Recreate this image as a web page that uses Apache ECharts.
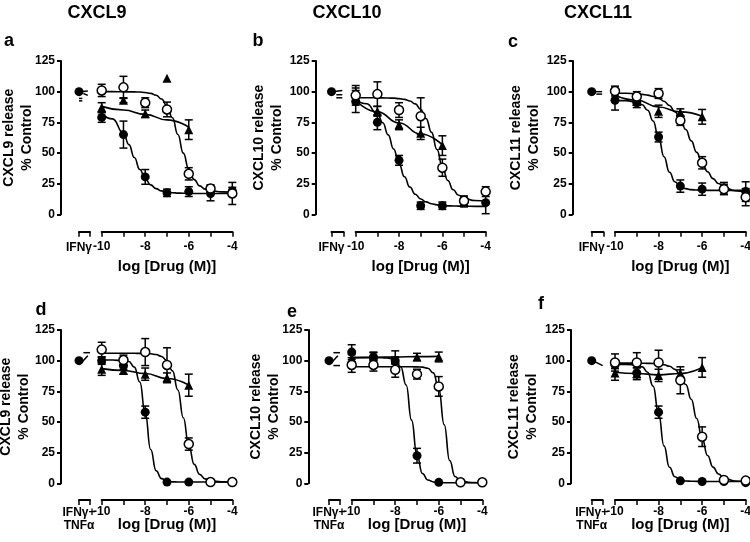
<!DOCTYPE html>
<html><head><meta charset="utf-8">
<script src="https://cdn.jsdelivr.net/npm/echarts@6/dist/echarts.min.js"></script>
<style>html,body{margin:0;padding:0;background:#fff}#c{width:750px;height:542px}</style>
</head><body><div id="c"></div>
<script>
// ---------- data ----------
const DOSES = [-10, -9, -8, -7, -6, -5, -4];
const TRI_DOSES = [-10, -9, -8, -7, -6];
const CURVE_X = [-10, -9.5, -9, -8.75, -8.5, -8.25, -8, -7.75, -7.5, -7.25, -7, -6.75, -6.5, -6.25, -6, -5.75, -5.5, -5.25, -5, -4.5, -4];
const TITLES = ['CXCL9', 'CXCL10', 'CXCL11'];
const PANEL_LETTERS = ['a', 'b', 'c', 'd', 'e', 'f'];
const Y_NAMES = ['CXCL9 release\n% Control', 'CXCL10 release\n% Control', 'CXCL11 release\n% Control'];
const X_NAME = 'log [Drug (M)]';
const CONTROL_LABELS = ['IFNγ', 'IFNγ+\nTNFα'];
const CONTROL_VALUE = 100;

// panel a
const A_FILLED = [79, 65, 30.5, 17.5, 18.5, 17, 19];
const A_FILLED_ERR = [4, 11, 6, 3, 4, 6, 3];
const A_OPEN = [101, 103.5, 91, 85.5, 33, 21, 17];
const A_OPEN_ERR = [5, 9, 4, 6, 5, 3, 9];
const A_TRI = [87, 93, 82, 111, 69];
const A_TRI_ERR = [4, 2, 3, 0, 8];
const A_FILLED_FIT = [82.1, 77.8, 66.2, 56.8, 46.3, 36.5, 29, 24, 20.9, 19.1, 18.1, 17.6, 17.3, 17.2, 17.1, 17, 17, 17, 17, 17, 17];
const A_OPEN_FIT = [100, 100, 99.9, 99.8, 99.8, 99.7, 99.3, 98.6, 97.1, 94, 88.3, 78.7, 65.1, 49.9, 37, 28.3, 23.2, 20.5, 19.2, 18.3, 18.1];
const A_TRI_FIT = [88, 85, 81.5, 77, 71];
const A_STUBS = [[0.1, 100, 0.8, 100.5], [0.4, 98.5, 0.8, 97], [0, 94.5, 0.3, 94.5], [0, 92.5, 0.3, 92.5]];

// panel b
const B_FILLED = [92, 75, 44, 7, 7, 10, 9.5];
const B_FILLED_ERR = [9, 6, 4, 3, 3, 4, 9];
const B_OPEN = [97, 98, 85, 80, 38, 11, 18.5];
const B_OPEN_ERR = [8, 10, 6, 15, 7, 4, 4];
const B_TRI = [99, 84, 73, 66, 56];
const B_TRI_ERR = [4, 4, 4, 5, 8];
const B_FILLED_FIT = [93.3, 90.1, 81.9, 74.6, 64.8, 53.2, 41.2, 30.6, 22.2, 16.3, 12.5, 10.1, 8.6, 7.7, 7.2, 6.9, 6.8, 6.7, 6.6, 6.5, 6.5];
const B_OPEN_FIT = [95, 95, 95, 94.9, 94.8, 94.7, 94.3, 93.7, 92.4, 90, 85.5, 78, 66.8, 52.8, 38.7, 27.5, 20, 15.5, 13.1, 11.2, 10.7];
const B_TRI_FIT = [93, 83.5, 74.5, 65.5, 56.5];
const B_STUBS = [[0.1, 100, 0.9, 101], [0.4, 97.5, 0.9, 97.5], [0.4, 95, 0.9, 95]];

// panel c
const C_FILLED = [93, 91, 63, 23, 20.5, 21, 18.5];
const C_FILLED_ERR = [8, 4, 4, 5, 5, 5, 8];
const C_OPEN = [100.5, 96, 98.5, 76.5, 42, 20.5, 14];
const C_OPEN_ERR = [4, 4, 4, 4, 5, 4, 7];
const C_TRI = [96, 92, 84, 83, 79.5];
const C_TRI_ERR = [3, 3, 5, 3, 6];
const C_FILLED_FIT = [92.9, 92.7, 91.4, 89.3, 84.8, 76.1, 62.5, 46.9, 34.3, 26.5, 22.6, 20.9, 20.1, 19.8, 19.6, 19.5, 19.5, 19.5, 19.5, 19.5, 19.5];
const C_OPEN_FIT = [98.9, 98.7, 98.3, 97.8, 97.2, 96.1, 94.5, 92.2, 88.7, 83.7, 77.2, 69.1, 59.9, 50.5, 41.9, 34.7, 29.1, 25.1, 22.3, 19.2, 17.9];
const C_TRI_FIT = [97, 93, 87.5, 83.5, 80];
const C_STUBS = [[0.1, 100, 0.9, 100], [0.4, 98, 0.9, 98]];

// panel d
const D_FILLED = [100, 96, 58, 1, 1, 1, 1];
const D_FILLED_ERR = [3, 3, 5, 0, 0, 0, 0];
const D_OPEN = [109, 100.5, 107, 96.5, 32, 1, 1];
const D_OPEN_ERR = [6, 4, 11, 14, 5, 0, 0];
const D_TRI = [93, 92, 89, 86, 80];
const D_TRI_ERR = [5, 3, 5, 4, 9];
const D_FILLED_FIT = [100.5, 100.5, 100, 99.3, 94.7, 82.6, 57, 27.5, 10.2, 3.8, 1.8, 1.2, 1.1, 1, 1, 1, 1, 1, 1, 1, 1];
const D_OPEN_FIT = [106, 106, 106, 106, 106, 105.9, 105.8, 105.6, 105, 103.4, 99.8, 91.7, 76.1, 53.5, 30.9, 15.4, 7.3, 3.6, 2, 1.2, 1];
const D_TRI_FIT = [93.5, 92, 89.5, 85.5, 80];
const D_STUBS = [[0.2, 98, 0.8, 104], [0.4, 106.5, 1, 106.5]];

// panel e
const E_FILLED = [107, 103, 100, 22.5, 0.8, 0.8, 0.8];
const E_FILLED_ERR = [6, 4, 3, 6, 0, 0, 0];
const E_OPEN = [96.5, 96.5, 92.5, 89, 79, 0.8, 0.8];
const E_OPEN_ERR = [6, 5, 6, 4, 8, 0, 0];
const E_TRI = [102, 103.5, 101, 103, 103];
const E_TRI_ERR = [3, 3, 7, 3, 4];
const E_FILLED_FIT = [102.5, 102.5, 102.5, 102.4, 102.3, 101.9, 100.3, 95, 80.1, 51.5, 22.9, 8, 2.7, 1.1, 0.7, 0.5, 0.5, 0.5, 0.5, 0.5, 0.5];
const E_OPEN_FIT = [95, 95, 95, 95, 95, 95, 95, 95, 95, 95, 94.9, 94.7, 93.8, 90, 76.9, 47.8, 18.6, 5.5, 1.7, 0.6, 0.5];
const E_TRI_FIT = [102.5, 102.8, 103, 103.3, 103.5];
const E_STUBS = [[0.2, 98, 0.8, 104], [0.4, 106.5, 1, 106.5], [0.4, 96, 1, 96]];

// panel f
const F_FILLED = [96.5, 90, 58, 2, 1.5, 1.5, 0.5];
const F_FILLED_ERR = [3, 4, 5, 0, 0, 0, 0];
const F_OPEN = [98.5, 98.5, 98.5, 84, 38, 2.7, 2.2];
const F_OPEN_ERR = [7, 8, 10, 11, 8, 0, 0];
const F_TRI = [90, 89.5, 88, 89.5, 94.5];
const F_TRI_ERR = [6, 5, 5, 3, 8];
const F_FILLED_FIT = [97, 96.9, 96.3, 94.9, 90.5, 79.2, 56.9, 30.5, 13.1, 5.4, 2.8, 1.9, 1.7, 1.6, 1.5, 1.5, 1.5, 1.5, 1.5, 1.5, 1.5];
const F_OPEN_FIT = [98, 98, 98, 97.9, 97.8, 97.7, 97.3, 96.7, 95.4, 92.9, 88.4, 80.6, 68.5, 52.8, 36.4, 22.7, 13.2, 7.6, 4.4, 1.9, 1.2];
const F_TRI_FIT = [90.5, 89.5, 88.5, 89.5, 94.5];
const F_STUBS = [[0.1, 100, 1, 96]];

// ---------- layout (pixels) ----------
const LAYOUT = [
  {left: 101.7, top: 61, width: 130.6, height: 153.3, yOff: 40.7, xOff: 17.4, ctrlLeft: 79, ctrlW: 11, yGap: 25, xGap: 28, lblMargin: 9, letter: [9, 41]},
  {left: 355.7, top: 61, width: 130, height: 153.3, yOff: 40, xOff: 17.4, ctrlLeft: 331.5, ctrlW: 12, yGap: 29.7, xGap: 28, lblMargin: 9, letter: [258, 41]},
  {left: 615, top: 61, width: 130.7, height: 153.3, yOff: 42.3, xOff: 17.4, ctrlLeft: 591.7, ctrlW: 11.6, yGap: 29.7, xGap: 28, lblMargin: 9, letter: [513, 42]},
  {left: 101.7, top: 330, width: 130.6, height: 153.3, yOff: 40.7, xOff: 16.7, ctrlLeft: 79, ctrlW: 11, yGap: 28, xGap: 17, lblMargin: 6, letter: [41, 310]},
  {left: 351.7, top: 330, width: 130.6, height: 153.3, yOff: 43.4, xOff: 16.7, ctrlLeft: 329, ctrlW: 11, yGap: 25.3, xGap: 17, lblMargin: 6, letter: [292, 312]},
  {left: 615, top: 330, width: 130.7, height: 153.3, yOff: 44, xOff: 16.7, ctrlLeft: 591.7, ctrlW: 11, yGap: 30, xGap: 17, lblMargin: 6, letter: [541, 304]}
];
const TITLE_POS = [[97, 13], [347, 13], [598, 13]];

const PANELS = [
  {filled: A_FILLED, filledErr: A_FILLED_ERR, open: A_OPEN, openErr: A_OPEN_ERR, tri: A_TRI, triErr: A_TRI_ERR, filledFit: A_FILLED_FIT, openFit: A_OPEN_FIT, triFit: A_TRI_FIT, stubs: A_STUBS, yName: Y_NAMES[0], ctrl: CONTROL_LABELS[0]},
  {filled: B_FILLED, filledErr: B_FILLED_ERR, open: B_OPEN, openErr: B_OPEN_ERR, tri: B_TRI, triErr: B_TRI_ERR, filledFit: B_FILLED_FIT, openFit: B_OPEN_FIT, triFit: B_TRI_FIT, stubs: B_STUBS, yName: Y_NAMES[1], ctrl: CONTROL_LABELS[0]},
  {filled: C_FILLED, filledErr: C_FILLED_ERR, open: C_OPEN, openErr: C_OPEN_ERR, tri: C_TRI, triErr: C_TRI_ERR, filledFit: C_FILLED_FIT, openFit: C_OPEN_FIT, triFit: C_TRI_FIT, stubs: C_STUBS, yName: Y_NAMES[2], ctrl: CONTROL_LABELS[0]},
  {filled: D_FILLED, filledErr: D_FILLED_ERR, open: D_OPEN, openErr: D_OPEN_ERR, tri: D_TRI, triErr: D_TRI_ERR, filledFit: D_FILLED_FIT, openFit: D_OPEN_FIT, triFit: D_TRI_FIT, stubs: D_STUBS, yName: Y_NAMES[0], ctrl: CONTROL_LABELS[1]},
  {filled: E_FILLED, filledErr: E_FILLED_ERR, open: E_OPEN, openErr: E_OPEN_ERR, tri: E_TRI, triErr: E_TRI_ERR, filledFit: E_FILLED_FIT, openFit: E_OPEN_FIT, triFit: E_TRI_FIT, stubs: E_STUBS, yName: Y_NAMES[1], ctrl: CONTROL_LABELS[1]},
  {filled: F_FILLED, filledErr: F_FILLED_ERR, open: F_OPEN, openErr: F_OPEN_ERR, tri: F_TRI, triErr: F_TRI_ERR, filledFit: F_FILLED_FIT, openFit: F_OPEN_FIT, triFit: F_TRI_FIT, stubs: F_STUBS, yName: Y_NAMES[2], ctrl: CONTROL_LABELS[1]}
];

// ---------- build ----------
const FONT = '"Liberation Sans", Arial, Helvetica, sans-serif';
const BLACK = '#000';
const grids = [], xAxes = [], yAxes = [], series = [], graphics = [];

function errRender(params, api) {
  const x = api.value(0), y = api.value(1), e = api.value(2);
  if (!e) return null;
  const t = api.coord([x, y + e]), b = api.coord([x, y - e]);
  const hw = 4, st = {stroke: BLACK, lineWidth: 1.5};
  return {type: 'group', children: [
    {type: 'line', shape: {x1: t[0], y1: t[1], x2: b[0], y2: b[1]}, style: st},
    {type: 'line', shape: {x1: t[0] - hw, y1: t[1], x2: t[0] + hw, y2: t[1]}, style: st},
    {type: 'line', shape: {x1: b[0] - hw, y1: b[1], x2: b[0] + hw, y2: b[1]}, style: st}
  ]};
}
function stubRender(params, api) {
  const p1 = api.coord([api.value(0), api.value(1)]), p2 = api.coord([api.value(2), api.value(3)]);
  return {type: 'line', shape: {x1: p1[0], y1: p1[1], x2: p2[0], y2: p2[1]}, style: {stroke: BLACK, lineWidth: 1.5}};
}
const lblStyle = {color: BLACK, fontFamily: FONT, fontWeight: 'bold', fontSize: 12};

PANELS.forEach((P, p) => {
  const L = LAYOUT[p];
  const gi = 2 * p, ci = 2 * p + 1;
  grids.push({left: L.left, top: L.top, width: L.width, height: L.height, outerBoundsMode: 'none', containLabel: false});
  grids.push({left: L.ctrlLeft, top: L.top, width: L.ctrlW, height: L.height, outerBoundsMode: 'none', containLabel: false});

  xAxes.push({
    gridIndex: gi, type: 'value', min: -10, max: -4, interval: 1, offset: L.xOff,
    axisLine: {show: true, onZero: false, lineStyle: {color: BLACK, width: 2}},
    axisTick: {show: true, length: 5, lineStyle: {color: BLACK, width: 1.5}},
    axisLabel: Object.assign({margin: L.lblMargin, formatter: v => (v % 2 === 0 ? String(v) : '')}, lblStyle),
    splitLine: {show: false},
    name: X_NAME, nameLocation: 'middle', nameGap: L.xGap, nameMoveOverlap: false,
    nameTextStyle: {color: BLACK, fontFamily: FONT, fontWeight: 'bold', fontSize: 15}
  });
  xAxes.push({
    gridIndex: ci, type: 'value', min: 0, max: 1, interval: 1, offset: L.xOff,
    axisLine: {show: true, onZero: false, lineStyle: {color: BLACK, width: 2}},
    axisTick: {show: true, length: 5, lineStyle: {color: BLACK, width: 1.5}},
    axisLabel: Object.assign({margin: L.lblMargin, lineHeight: 13, formatter: v => (v === 0 ? P.ctrl : '')}, lblStyle),
    splitLine: {show: false}
  });
  yAxes.push({
    gridIndex: gi, type: 'value', min: 0, max: 125, interval: 25, offset: L.yOff,
    axisLine: {show: true, onZero: false, lineStyle: {color: BLACK, width: 2}},
    axisTick: {show: true, length: 4, lineStyle: {color: BLACK, width: 2}},
    axisLabel: Object.assign({margin: 6}, lblStyle),
    splitLine: {show: false},
    name: P.yName, nameLocation: 'middle', nameRotate: 90, nameGap: L.yGap, nameMoveOverlap: false,
    nameTextStyle: {color: BLACK, fontFamily: FONT, fontWeight: 'bold', fontSize: 14, lineHeight: 18, align: 'center'}
  });
  yAxes.push({gridIndex: ci, type: 'value', min: 0, max: 125, show: false});

  const lineBase = {type: 'line', xAxisIndex: gi, yAxisIndex: gi, showSymbol: false, symbol: 'none', smooth: true,
    smoothMonotone: 'x', clip: false, z: 2, silent: true, lineStyle: {color: BLACK, width: 1.6, opacity: 1}};
  series.push(Object.assign({data: CURVE_X.map((x, i) => [x, P.filledFit[i]])}, lineBase));
  series.push(Object.assign({data: CURVE_X.map((x, i) => [x, P.openFit[i]])}, lineBase));
  series.push(Object.assign({data: TRI_DOSES.map((x, i) => [x, P.triFit[i]])}, lineBase));

  const errData = [];
  DOSES.forEach((x, i) => { errData.push([x, P.filled[i], P.filledErr[i]]); errData.push([x, P.open[i], P.openErr[i]]); });
  TRI_DOSES.forEach((x, i) => errData.push([x, P.tri[i], P.triErr[i]]));
  series.push({type: 'custom', xAxisIndex: gi, yAxisIndex: gi, renderItem: errRender, data: errData, z: 3, silent: true, clip: false});

  const solid = {color: BLACK, opacity: 1};
  series.push({type: 'scatter', xAxisIndex: gi, yAxisIndex: gi, symbol: 'triangle', symbolSize: 9, z: 4, clip: false, silent: true,
    itemStyle: solid, data: TRI_DOSES.map((x, i) => [x, P.tri[i]])});
  series.push({type: 'scatter', xAxisIndex: gi, yAxisIndex: gi, symbol: 'circle', symbolSize: 9, z: 4, clip: false, silent: true,
    itemStyle: solid, data: DOSES.map((x, i) => [x, P.filled[i]])});
  series.push({type: 'scatter', xAxisIndex: gi, yAxisIndex: gi, symbol: 'circle', symbolSize: 9, z: 5, clip: false, silent: true,
    itemStyle: {color: '#fff', borderColor: BLACK, borderWidth: 1.5, opacity: 1}, data: DOSES.map((x, i) => [x, P.open[i]])});

  series.push({type: 'custom', xAxisIndex: ci, yAxisIndex: ci, renderItem: stubRender, data: P.stubs, z: 3, silent: true, clip: false});
  series.push({type: 'scatter', xAxisIndex: ci, yAxisIndex: ci, symbol: 'circle', symbolSize: 9, z: 4, clip: false, silent: true,
    itemStyle: solid, data: [[0, CONTROL_VALUE]]});

  graphics.push({type: 'text', x: L.letter[0], y: L.letter[1],
    style: {text: PANEL_LETTERS[p], fill: BLACK, font: 'bold 18px ' + FONT, align: 'center', verticalAlign: 'middle'}});
});

TITLES.forEach((t, i) => graphics.push({type: 'text', x: TITLE_POS[i][0], y: TITLE_POS[i][1],
  style: {text: t, fill: BLACK, font: 'bold 18px ' + FONT, align: 'center', verticalAlign: 'middle'}}));

const chart = echarts.init(document.getElementById('c'));
chart.setOption({
  animation: false,
  backgroundColor: '#fff',
  textStyle: {fontFamily: FONT},
  grid: grids, xAxis: xAxes, yAxis: yAxes, series: series, graphic: graphics
});
</script></body></html>
